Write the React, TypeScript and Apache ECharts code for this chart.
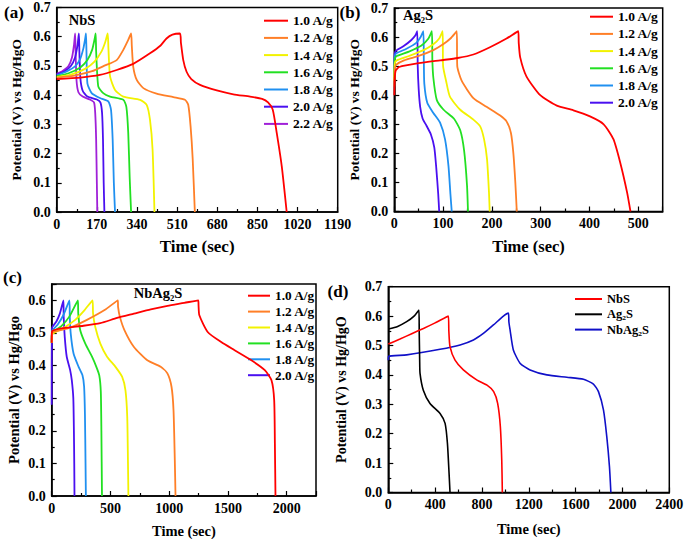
import React, { useEffect, useRef } from "react";
import * as echarts from "echarts";

const FONT = "'Liberation Serif', 'Times New Roman', serif";

// ---------- panel (a) NbS ----------
const A_NAMES = ["1.0 A/g", "1.2 A/g", "1.4 A/g", "1.6 A/g", "1.8 A/g", "2.0 A/g", "2.2 A/g"];
const A_10 = [[0,0.455],[100,0.46],[183,0.469],[254,0.486],[324,0.507],[395,0.543],[440,0.57],[465,0.594],[490,0.607],[522,0.611],[526,0.58],[536,0.52],[550,0.48],[570,0.455],[607,0.435],[678,0.416],[748,0.403],[819,0.395],[870,0.387],[895,0.375],[915,0.35],[932,0.27],[953,0.157],[974,0]];
const A_12 = [[0,0.46],[80,0.468],[150,0.482],[200,0.5],[254,0.52],[282,0.555],[303,0.589],[315,0.611],[318,0.57],[324,0.498],[339,0.452],[367,0.424],[423,0.405],[494,0.393],[543,0.384],[557,0.367],[567,0.293],[576,0.18],[585,0]];
const A_14 = [[0,0.462],[60,0.47],[120,0.49],[160,0.515],[190,0.55],[205,0.58],[216,0.611],[219,0.56],[226,0.464],[247,0.418],[282,0.395],[353,0.384],[381,0.367],[395,0.316],[406,0.214],[414,0]];
const A_16 = [[0,0.465],[50,0.475],[100,0.495],[130,0.52],[150,0.555],[160,0.59],[165,0.611],[167,0.55],[176,0.43],[197,0.407],[226,0.395],[282,0.384],[295,0.36],[303,0.27],[309,0.12],[315,0]];
const A_18 = [[0,0.468],[40,0.48],[80,0.5],[100,0.525],[113,0.56],[120,0.59],[124,0.611],[126,0.55],[130,0.44],[148,0.407],[183,0.39],[219,0.378],[230,0.35],[237,0.248],[242,0.1],[247,0]];
const A_20 = [[0,0.47],[30,0.48],[60,0.5],[78,0.53],[88,0.57],[94,0.611],[96,0.55],[100,0.46],[110,0.415],[130,0.395],[170,0.385],[185,0.375],[192,0.34],[196,0.25],[199,0.1],[202,0]];
const A_22 = [[0,0.473],[25,0.483],[50,0.5],[65,0.53],[73,0.57],[78,0.611],[80,0.55],[84,0.45],[92,0.41],[110,0.395],[140,0.385],[158,0.375],[163,0.34],[167,0.25],[170,0.1],[172,0]];
const A_DATA = [A_10, A_12, A_14, A_16, A_18, A_20, A_22];

// ---------- panel (b) Ag2S ----------
const B_NAMES = ["1.0 A/g", "1.2 A/g", "1.4 A/g", "1.6 A/g", "1.8 A/g", "2.0 A/g"];
const B_10 = [[0,0.4],[1,0.46],[3,0.485],[10,0.497],[50,0.51],[94,0.52],[130,0.528],[162,0.54],[196,0.565],[230,0.595],[254,0.62],[255,0.58],[258,0.53],[271,0.464],[299,0.4],[333,0.364],[367,0.348],[401,0.327],[429,0.3],[449,0.249],[463,0.168],[477,0.066],[484,0]];
const B_12 = [[0,0.43],[1,0.49],[4,0.505],[20,0.52],[50,0.535],[80,0.555],[100,0.575],[115,0.595],[128,0.62],[129,0.5],[138,0.45],[162,0.39],[189,0.36],[217,0.33],[230,0.31],[239,0.27],[244,0.2],[248,0.1],[251,0]];
const B_14 = [[0,0.45],[1,0.51],[5,0.52],[30,0.535],[60,0.555],[80,0.575],[92,0.595],[99,0.62],[100,0.5],[106,0.45],[114,0.395],[135,0.35],[162,0.316],[176,0.293],[184,0.248],[190,0.18],[194,0.066],[195.5,0]];
const B_16 = [[0,0.46],[1,0.525],[5,0.535],[30,0.55],[55,0.57],[70,0.595],[77,0.62],[78,0.52],[80,0.46],[87,0.384],[101,0.35],[122,0.32],[135,0.28],[143,0.21],[149,0.09],[151,0]];
const B_18 = [[0,0.47],[1,0.535],[5,0.545],[25,0.56],[45,0.58],[54,0.6],[59.5,0.62],[60.5,0.52],[61.5,0.44],[67.7,0.373],[80,0.339],[94,0.305],[104,0.248],[111,0.157],[115,0.06],[117.7,0]];
const B_20 = [[0,0.48],[1,0.545],[5,0.555],[20,0.57],[35,0.59],[43,0.605],[47,0.62],[48,0.5],[50,0.42],[53,0.36],[58,0.32],[66,0.295],[75,0.265],[82,0.22],[86,0.15],[90,0.06],[92,0]];
const B_DATA = [B_10, B_12, B_14, B_16, B_18, B_20];

// ---------- panel (c) NbAg2S ----------
const C_NAMES = ["1.0 A/g", "1.2 A/g", "1.4 A/g", "1.6 A/g", "1.8 A/g", "2.0 A/g"];
const C_10 = [[0,0.47],[3,0.505],[100,0.515],[271,0.522],[414,0.53],[557,0.546],[700,0.559],[843,0.572],[986,0.583],[1128,0.592],[1248,0.6],[1250,0.585],[1257,0.554],[1328,0.503],[1443,0.472],[1557,0.447],[1700,0.416],[1814,0.386],[1871,0.355],[1894,0.294],[1900,0.16],[1905,0]];
const C_12 = [[0,0.47],[3,0.5],[150,0.515],[300,0.54],[450,0.57],[563,0.6],[565,0.58],[580,0.55],[620,0.508],[700,0.457],[814,0.416],[928,0.396],[985,0.376],[1020,0.335],[1037,0.263],[1048,0.11],[1054,0]];
const C_14 = [[0,0.47],[3,0.495],[100,0.515],[200,0.54],[280,0.57],[348,0.6],[352,0.56],[371,0.518],[414,0.467],[471,0.427],[543,0.396],[600,0.365],[628,0.324],[643,0.243],[649,0.11],[653,0]];
const C_16 = [[0,0.47],[3,0.5],[80,0.52],[150,0.55],[223,0.6],[226,0.56],[243,0.508],[286,0.467],[343,0.427],[380,0.396],[405,0.37],[418,0.32],[423,0.2],[428,0]];
const C_18 = [[0,0.47],[3,0.505],[50,0.525],[100,0.555],[151,0.6],[154,0.55],[162,0.498],[186,0.437],[229,0.396],[262,0.37],[276,0.335],[283,0.25],[288,0.1],[291,0]];
const C_20 = [[0,0.28],[3,0.515],[40,0.535],[70,0.56],[100,0.6],[102,0.55],[111,0.488],[128,0.427],[157,0.386],[171,0.355],[184,0.3],[189,0.2],[192,0.1],[194,0]];
const C_DATA = [C_10, C_12, C_14, C_16, C_18, C_20];

// ---------- panel (d) comparison at 1.0 A/g ----------
const D_NAMES = ["NbS", "Ag\u2082S", "NbAg\u2082S"];
const D_NBS = [[0,0.505],[100,0.522],[200,0.54],[300,0.558],[400,0.577],[513,0.6],[517,0.55],[527,0.496],[570,0.45],[641,0.417],[758,0.382],[843,0.365],[900,0.343],[934,0.303],[957,0.224],[969,0.11],[974,0]];
const D_AG2S = [[0,0.556],[80,0.565],[157,0.581],[220,0.6],[262,0.621],[264,0.55],[268,0.45],[271,0.405],[299,0.348],[356,0.303],[442,0.269],[485,0.235],[505,0.167],[519,0.065],[527,0]];
const D_NBAG2S = [[0,0.45],[2,0.463],[157,0.468],[442,0.487],[613,0.502],[727,0.519],[812,0.541],[898,0.57],[983,0.6],[1026,0.61],[1030,0.58],[1040,0.553],[1068,0.485],[1125,0.44],[1211,0.417],[1354,0.4],[1525,0.392],[1667,0.385],[1752,0.369],[1795,0.343],[1838,0.28],[1866,0.19],[1889,0.087],[1901,0]];
const D_DATA = [D_NBS, D_AG2S, D_NBAG2S];

const RATE_COLORS = ["#ff0000", "#ff7f27", "#f2f200", "#22e022", "#2090f0", "#4a10f0", "#a020d8"];
const D_COLORS = ["#ff0000", "#000000", "#1010c8"];

// axis ranges / ticks
const X_RANGES = [[0, 1190, 170], [0, 550, 100], [0, 2250, 500], [0, 2400, 400]];
const Y_RANGES = [[0, 0.7, 0.1], [0, 0.7, 0.1], [0, 0.65, 0.1], [0, 0.7, 0.1]];
const Y_TITLES = ["Potential (V) vs Hg/HgO", "Potential (V) vs Hg/HgO", "Potential (V) vs Hg/Hgo", "Potential (V) vs Hg/HgO"];
const X_TITLE = "Time (sec)";

const GRIDS = [
  { left: 56.7, top: 7.5, width: 281, height: 204.5 },
  { left: 394.3, top: 8, width: 268.4, height: 203.5 },
  { left: 51.7, top: 284, width: 264.3, height: 212 },
  { left: 388.3, top: 286.7, width: 281, height: 205.8 },
];
const Y_NAMEGAP = [33, 32.5, 30.5, 40];
const X_NAMEGAP = [26, 26, 27, 28.5];
const X_TITLE_SIZE = [17, 16.5, 14.5, 14.5];
const Y_TITLE_SIZE = [13.5, 13.5, 14.5, 14];

export default function App() {
  const ref = useRef<HTMLDivElement>(null);
  useEffect(() => {
    if (!ref.current) return;
    const chart = echarts.init(ref.current, undefined, { renderer: "svg" });
    const txt = { color: "#000", fontFamily: FONT, fontWeight: "bold" as const };

    const grid = GRIDS.map((g) => ({
      ...g,
      show: true,
      borderColor: "#000",
      borderWidth: 1.5,
      backgroundColor: "transparent",
      containLabel: false,
      outerBoundsMode: "none",
    }));

    const xAxis = X_RANGES.map(([min, max, interval], i) => ({
      type: "value",
      gridIndex: i,
      min,
      max,
      interval,
      name: X_TITLE,
      nameLocation: "middle",
      nameGap: X_NAMEGAP[i],
      nameMoveOverlap: false,
      nameTextStyle: { ...txt, fontSize: X_TITLE_SIZE[i] },
      axisLine: { show: true, onZero: false, lineStyle: { color: "#000", width: 1.5 } },
      axisTick: { show: true, inside: true, length: 5, lineStyle: { color: "#000", width: 1.2 } },
      minorTick: { show: true, splitNumber: 2, length: 3, lineStyle: { color: "#000", width: 1.2 } },
      splitLine: { show: false },
      axisLabel: {
        ...txt,
        fontSize: 14,
        margin: 5,
        showMaxLabel: max % interval === 0,
        formatter: (v: number) => String(Math.round(v)),
      },
    }));

    const yAxis = Y_RANGES.map(([min, max, interval], i) => ({
      type: "value",
      gridIndex: i,
      min,
      max,
      interval,
      name: Y_TITLES[i],
      nameLocation: "middle",
      nameGap: Y_NAMEGAP[i],
      nameMoveOverlap: false,
      nameTextStyle: { ...txt, fontSize: Y_TITLE_SIZE[i] },
      axisLine: { show: true, onZero: false, lineStyle: { color: "#000", width: 1.5 } },
      axisTick: { show: true, inside: true, length: 5, lineStyle: { color: "#000", width: 1.2 } },
      minorTick: { show: true, splitNumber: 2, length: 3, lineStyle: { color: "#000", width: 1.2 } },
      splitLine: { show: false },
      axisLabel: {
        ...txt,
        fontSize: 14,
        margin: 6,
        showMaxLabel: i !== 2,
        formatter: (v: number) => v.toFixed(1),
      },
    }));

    const series: any[] = [];
    const addPanel = (names: string[], datas: number[][][], colors: string[], idx: number, width: number) => {
      datas.forEach((d, k) => {
        series.push({
          type: "line",
          name: names[k],
          xAxisIndex: idx,
          yAxisIndex: idx,
          data: d,
          symbol: "none",
          showSymbol: false,
          smooth: 0.2,
          lineStyle: { color: colors[k], width },
          itemStyle: { color: colors[k] },
          z: 10 - k,
        });
      });
    };
    addPanel(A_NAMES, A_DATA, RATE_COLORS, 0, 1.8);
    addPanel(B_NAMES, B_DATA, RATE_COLORS, 1, 1.8);
    addPanel(C_NAMES, C_DATA, RATE_COLORS, 2, 1.8);
    addPanel(D_NAMES, D_DATA, D_COLORS, 3, 1.6);

    const legendBase = {
      orient: "vertical",
      icon: "rect",
      itemHeight: 2,
      textStyle: { ...txt, fontSize: 13.5, lineHeight: 14 },
      selectedMode: false,
      padding: 0,
    };
    const legend = [
      { ...legendBase, data: A_NAMES, left: 264, top: 13.7, itemWidth: 24, itemGap: 3.2 },
      { ...legendBase, data: B_NAMES, left: 590, top: 9.7, itemWidth: 23, itemGap: 3.2 },
      { ...legendBase, data: C_NAMES, left: 248, top: 288.7, itemWidth: 22, itemGap: 1.9, textStyle: { ...txt, fontSize: 13.3, lineHeight: 14 } },
      { ...legendBase, data: D_NAMES, left: 575, top: 292, itemWidth: 27, itemGap: 1.3, textStyle: { ...txt, fontSize: 12.5, lineHeight: 14 } },
    ];

    const label = (text: string, x: number, y: number, size: number) => ({
      type: "text",
      x,
      y,
      style: { text, fill: "#000", fontFamily: FONT, fontWeight: "bold", fontSize: size, align: "center", verticalAlign: "middle" },
    });

    chart.setOption({
      animation: false,
      backgroundColor: "#fff",
      textStyle: { fontFamily: FONT },
      grid,
      xAxis,
      yAxis,
      legend,
      series,
      graphic: [
        label("(a)", 14, 12, 17),
        label("(b)", 350, 12, 17),
        label("(c)", 12.5, 277, 17),
        label("(d)", 338, 291, 17),
        label("NbS", 82, 20, 14.5),
        label("Ag\u2082S", 418, 15, 14.5),
        label("NbAg\u2082S", 158, 293, 14.5),
      ],
    });
    return () => chart.dispose();
  }, []);
  return <div ref={ref} style={{ position: "absolute", left: 0, top: 0, width: 685, height: 539 }} />;
}
